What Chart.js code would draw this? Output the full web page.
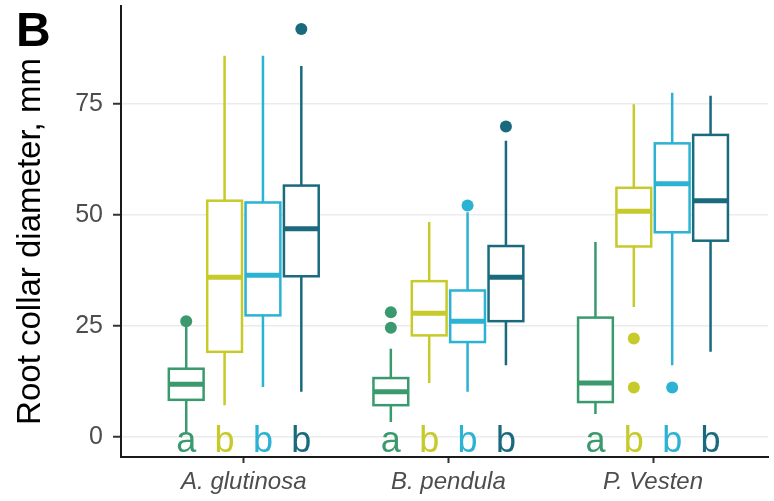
<!DOCTYPE html>
<html>
<head>
<meta charset="utf-8">
<script src="https://cdn.jsdelivr.net/npm/chart.js@4.4.1/dist/chart.umd.min.js"></script>
<style>
  html, body { margin: 0; padding: 0; background: #ffffff; }
  #wrap { position: relative; width: 774px; height: 501px; }
</style>
</head>
<body>
<div id="wrap"><canvas id="c"></canvas></div>
<script>
// ---- data ----
const categories = ['A. glutinosa', 'B. pendula', 'P. Vesten'];
const yTickValues = [0, 25, 50, 75];
// rows = series (4 treatments), columns = categories
const whiskerLow  = [[1.0, 3.4, 5.2], [7.2, 12.2, 29.3], [11.3, 10.2, 16.2], [10.2, 16.2, 19.2]];
const quartile1   = [[8.4, 7.2, 7.9], [19.2, 22.9, 42.9], [27.4, 21.4, 46.1], [36.2, 26.1, 44.2]];
const medians     = [[11.9, 10.2, 12.2], [36.0, 27.9, 50.8], [36.4, 26.1, 57.0], [46.9, 36.0, 53.2]];
const quartile3   = [[15.4, 13.3, 26.9], [53.2, 35.1, 56.1], [52.8, 33.0, 66.1], [56.6, 43.0, 68.0]];
const whiskerHigh = [[25.0, 19.9, 43.9], [85.8, 48.4, 74.9], [85.8, 50.6, 77.5], [83.5, 66.7, 76.8]];
const outliers    = [[[26.1], [24.6, 28.1], []], [[], [], [22.2, 11.2]], [[], [52.1], [11.2]], [[91.8], [69.9], []]];
const groupLetters = [['a', 'b', 'b', 'b'], ['a', 'b', 'b', 'b'], ['a', 'b', 'b', 'b']];
const panelTag = 'B';
const yTitle = 'Root collar diameter, mm';

// ---- styling ----
const colors = ['#3A9A6E', '#C6CA2A', '#2CB2D2', '#1A6A7E'];
const dodge = [-0.28125, -0.09375, 0.09375, 0.28125];
const boxWidth = 0.17;
const FONT = "'Liberation Sans', Arial, Helvetica, sans-serif";

const outlierDatasets = colors.map((col, s) => ({
  label: 'outliers ' + (s + 1),
  data: outliers[s].flatMap((vals, c) => vals.map(v => ({ x: c + 1 + dodge[s], y: v }))),
  backgroundColor: col,
  borderWidth: 0,
  pointRadius: 6,
  pointHoverRadius: 6
}));

const boxPlugin = {
  id: 'boxes',
  beforeDatasetsDraw(chart) {
    const { ctx, scales: { x, y } } = chart;
    ctx.save();
    for (let s = 0; s < colors.length; s++) {
      for (let c = 0; c < categories.length; c++) {
        const xc = c + 1 + dodge[s];
        const px = x.getPixelForValue(xc);
        const left = x.getPixelForValue(xc - boxWidth / 2);
        const right = x.getPixelForValue(xc + boxWidth / 2);
        const yLo = y.getPixelForValue(whiskerLow[s][c]);
        const yQ1 = y.getPixelForValue(quartile1[s][c]);
        const yMed = y.getPixelForValue(medians[s][c]);
        const yQ3 = y.getPixelForValue(quartile3[s][c]);
        const yHi = y.getPixelForValue(whiskerHigh[s][c]);
        ctx.strokeStyle = colors[s];
        ctx.lineWidth = 2.5;
        ctx.lineCap = 'butt';
        ctx.beginPath();
        ctx.moveTo(px, yLo); ctx.lineTo(px, yQ1);
        ctx.moveTo(px, yQ3); ctx.lineTo(px, yHi);
        ctx.stroke();
        ctx.fillStyle = '#ffffff';
        ctx.fillRect(left, yQ3, right - left, yQ1 - yQ3);
        ctx.strokeRect(left, yQ3, right - left, yQ1 - yQ3);
        ctx.lineWidth = 5;
        ctx.beginPath();
        ctx.moveTo(left, yMed); ctx.lineTo(right, yMed);
        ctx.stroke();
      }
    }
    ctx.restore();
  },
  afterDatasetsDraw(chart) {
    const { ctx, scales: { x, y } } = chart;
    ctx.save();
    const size = 36;
    ctx.font = size + 'px ' + FONT;
    ctx.textAlign = 'center';
    ctx.textBaseline = 'alphabetic';
    for (let c = 0; c < categories.length; c++) {
      for (let s = 0; s < colors.length; s++) {
        ctx.fillStyle = colors[s];
        ctx.fillText(groupLetters[c][s], x.getPixelForValue(c + 1 + dodge[s]), y.getPixelForValue(0) + size * 0.4);
      }
    }
    ctx.restore();
  },
  afterDraw(chart) {
    const { ctx, chartArea } = chart;
    ctx.save();
    // y-axis title, centred a little below the panel middle as in the reference
    ctx.font = '33px ' + FONT;
    ctx.fillStyle = '#000000';
    ctx.textAlign = 'center';
    ctx.textBaseline = 'middle';
    ctx.translate(31, (chartArea.top + chartArea.bottom) / 2 + 10);
    ctx.rotate(-Math.PI / 2);
    ctx.fillText(yTitle, 0, 0);
    ctx.restore();
    ctx.save();
    ctx.font = 'bold 48px ' + FONT;
    ctx.fillStyle = '#000000';
    ctx.textAlign = 'left';
    ctx.textBaseline = 'alphabetic';
    ctx.fillText(panelTag, 16, 46);
    ctx.restore();
  }
};

new Chart(document.getElementById('c'), {
  type: 'scatter',
  data: { datasets: outlierDatasets },
  options: {
    responsive: true,
    maintainAspectRatio: false,
    devicePixelRatio: 1,
    animation: false,
    events: [],
    layout: { padding: { top: 5, right: 0, bottom: 0, left: 0 } },
    plugins: { legend: { display: false }, tooltip: { enabled: false } },
    scales: {
      x: {
        type: 'linear',
        min: 0.4,
        max: 3.562,
        afterBuildTicks: (sc) => { sc.ticks = categories.map((_, i) => ({ value: i + 1 })); },
        afterFit: (sc) => { sc.height = 44; sc.paddingLeft = 0; sc.paddingRight = 0; },
        grid: { drawOnChartArea: false, drawTicks: true, tickLength: 6, tickColor: '#333333', tickWidth: 2 },
        border: { display: true, color: '#1a1a1a', width: 2 },
        ticks: {
          autoSkip: false,
          maxRotation: 0,
          padding: 5,
          color: '#4D4D4D',
          font: { family: FONT, size: 24, style: 'italic' },
          callback: (v) => categories[Math.round(v) - 1] || ''
        }
      },
      y: {
        type: 'linear',
        min: -4.46,
        max: 97,
        afterBuildTicks: (sc) => { sc.ticks = yTickValues.map(v => ({ value: v })); },
        afterFit: (sc) => { sc.width = 121; sc.paddingTop = 0; sc.paddingBottom = 0; },
        grid: { color: '#EBEBEB', lineWidth: 1.5, drawTicks: true, tickLength: 8, tickColor: '#333333', tickWidth: 2 },
        border: { display: true, color: '#1a1a1a', width: 2 },
        ticks: {
          padding: 10,
          color: '#4D4D4D',
          font: { family: FONT, size: 25 },
          callback: (v) => String(v)
        },
        title: { display: false, text: yTitle }
      }
    }
  },
  plugins: [boxPlugin]
});
</script>
</body>
</html>
